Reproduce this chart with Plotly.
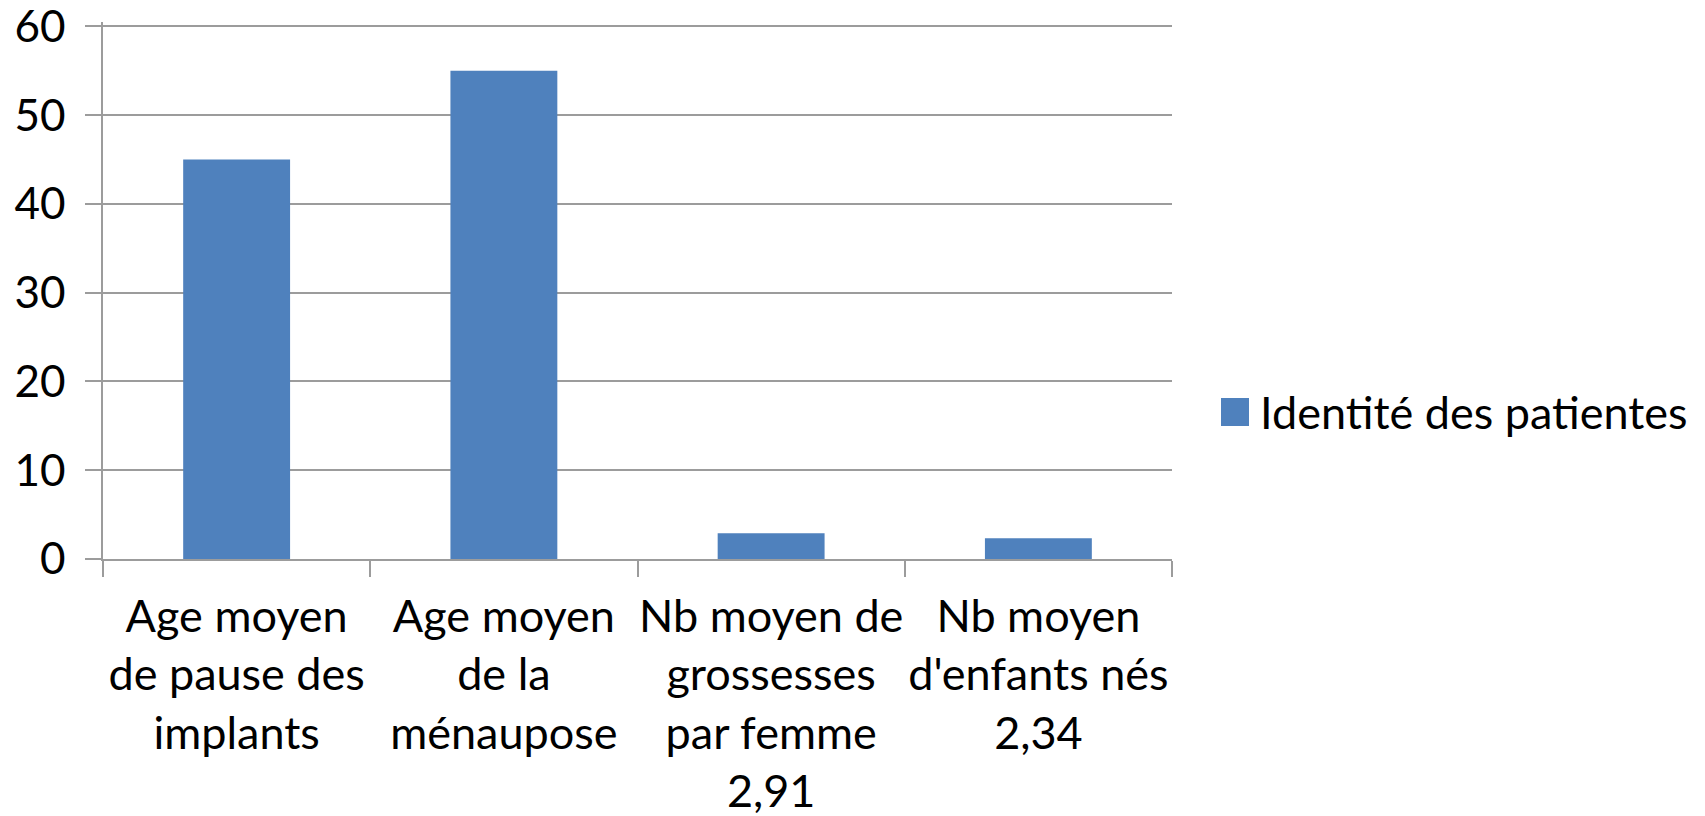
import plotly.graph_objects as go

categories = [
    "Age moyen<br>de pause des<br>implants",
    "Age moyen<br>de la<br>ménaupose",
    "Nb moyen de<br>grossesses<br>par femme<br>2,91",
    "Nb moyen<br>d'enfants nés<br>2,34",
]
values = [45, 55, 2.91, 2.34]
series_name = "Identité des patientes"
y_ticks = [0, 10, 20, 30, 40, 50, 60]

FONT = "Lato, 'Open Sans', sans-serif"
GRID = "#9c9c9c"
BAR = "#4f81bd"

fig = go.Figure()
fig.add_trace(go.Bar(
    x=categories, y=values, name=series_name,
    marker=dict(color=BAR, line=dict(width=0)),
    showlegend=False,
))

# page body has an 8px margin; compensate
OFF = 8
W, H = 1705 - OFF, 816 - OFF
Y_TOP = 60.5                       # tiny headroom so the 60 gridline is drawn
px_per_unit = (559 - 26) / 60.0
ph = round(px_per_unit * Y_TOP)
B = 257
T = H - B - ph
L, R = 103 - OFF, 533
pw = W - L - R

# legend swatch + label (paper coordinates derived from pixel layout)
sq_x0 = (1221 - OFF - L) / pw
sq_x1 = (1249 - OFF - L) / pw
sq_y0 = (H - B - (426 - OFF)) / ph
sq_y1 = (H - B - (398 - OFF)) / ph
fig.add_shape(type="rect", xref="paper", yref="paper",
              x0=sq_x0, x1=sq_x1, y0=sq_y0, y1=sq_y1,
              fillcolor=BAR, line=dict(width=0))
fig.add_annotation(text=series_name, xref="paper", yref="paper",
                   x=(1258 - OFF - L) / pw, y=(sq_y0 + sq_y1) / 2,
                   xanchor="left", yanchor="middle", showarrow=False,
                   font=dict(family=FONT, size=45, color="black"))

fig.update_layout(
    width=W, height=H,
    margin=dict(l=L, r=R, t=T, b=B, pad=0),
    paper_bgcolor="white", plot_bgcolor="white",
    bargap=0.6,
    showlegend=False,
    font=dict(family=FONT, size=44, color="black"),
    xaxis=dict(
        type="category", automargin=False,
        showline=True, linecolor=GRID, linewidth=1.5,
        ticks="outside", ticklen=16, tickcolor=GRID, tickwidth=1.5,
        tickson="boundaries",
        showgrid=False, zeroline=False,
        tickangle=0,
        tickfont=dict(family=FONT, size=45, color="black"),
        ticklabelstandoff=17,
    ),
    yaxis=dict(
        range=[0, Y_TOP], tickvals=y_ticks, automargin=False,
        showline=True, linecolor=GRID, linewidth=1.5,
        ticks="outside", ticklen=16, tickcolor=GRID, tickwidth=1.5,
        showgrid=True, gridcolor=GRID, gridwidth=1.5,
        zeroline=False,
        ticklabeloverflow="allow",
        tickfont=dict(family=FONT, size=44, color="black"),
        ticklabelstandoff=11,
    ),
)

fig.write_html("out.html")
